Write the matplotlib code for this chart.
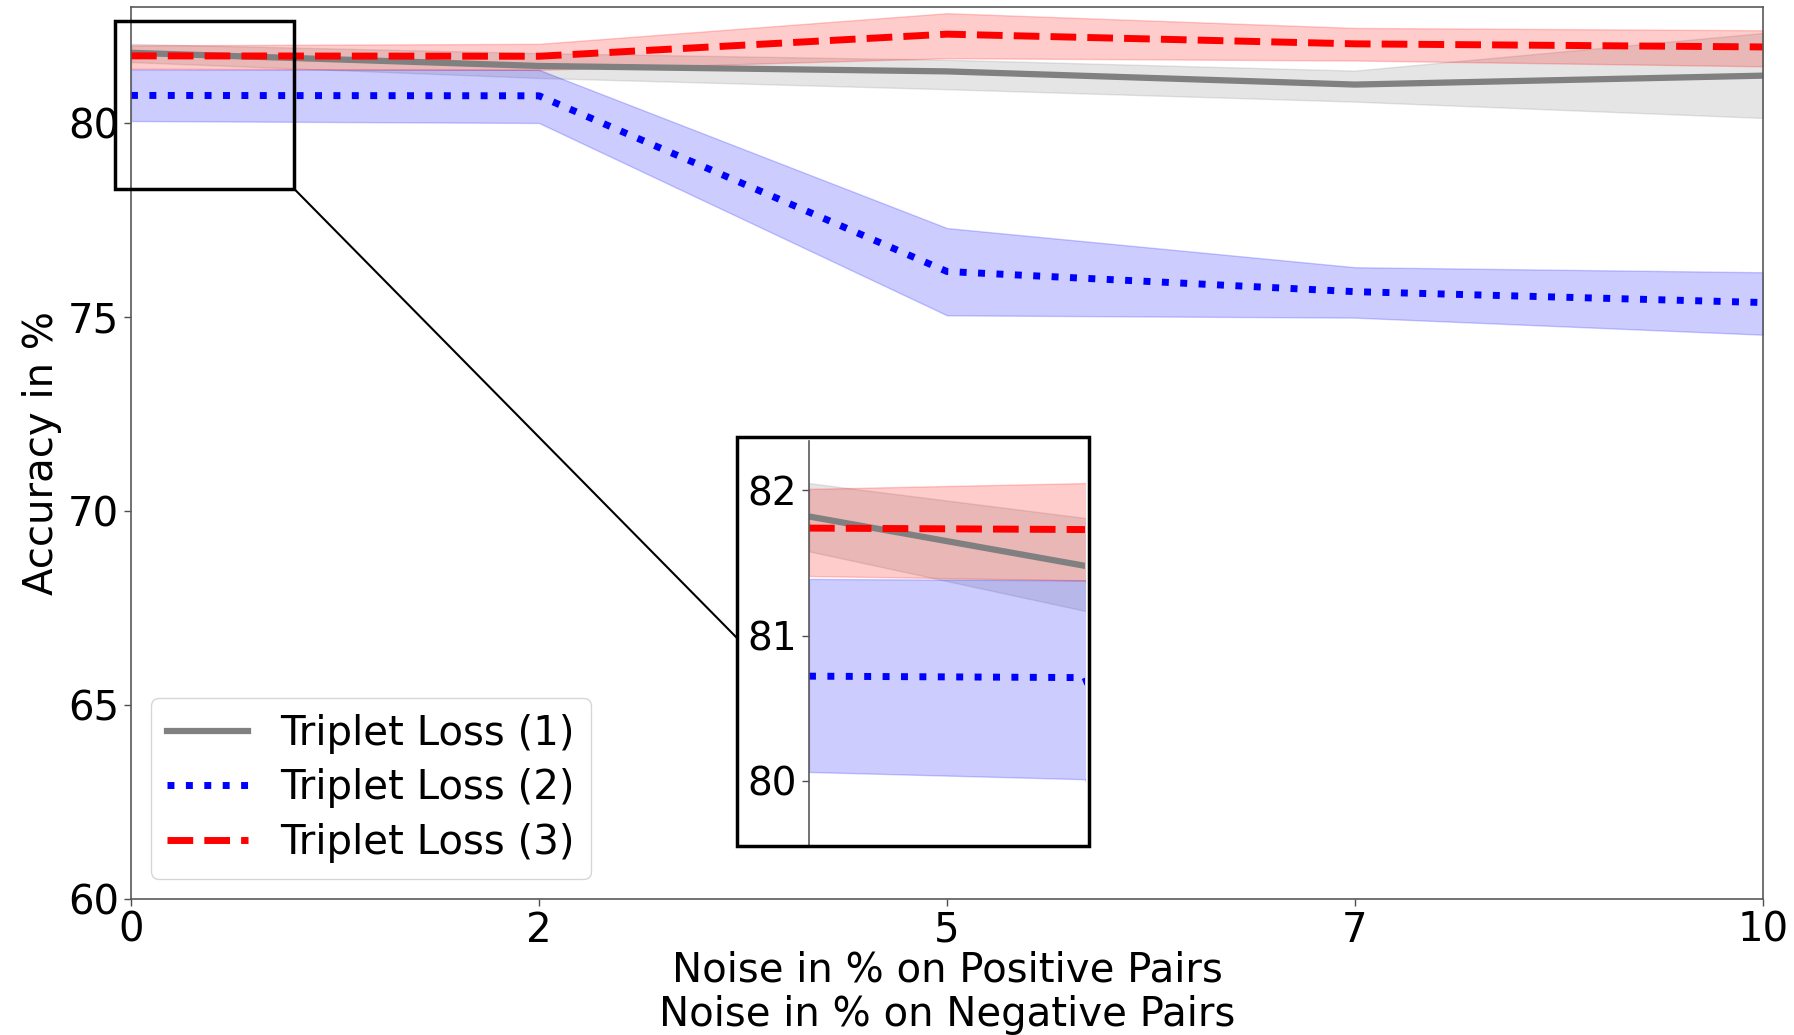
import matplotlib
matplotlib.use("Agg")
import matplotlib.pyplot as plt
from matplotlib.patches import Rectangle, ConnectionPatch

# ---- data ----
x_labels = ['0', '2', '5', '7', '10']
series_names = ['Triplet Loss (1)', 'Triplet Loss (2)', 'Triplet Loss (3)']

gray_mean = [81.82, 81.48, 81.34, 81.00, 81.23]
gray_low = [81.58, 81.17, 80.88, 80.56, 80.14]
gray_high = [82.05, 81.81, 81.64, 81.36, 82.33]

blue_mean = [80.72, 80.71, 76.18, 75.66, 75.38]
blue_low = [80.06, 80.01, 75.05, 74.99, 74.55]
blue_high = [81.39, 81.38, 77.30, 76.29, 76.16]

red_mean = [81.74, 81.73, 82.30, 82.05, 81.97]
red_low = [81.41, 81.38, 81.68, 81.62, 81.47]
red_high = [82.01, 82.05, 82.84, 82.46, 82.40]

y_ticks = [60, 65, 70, 75, 80]
inset_ticks = [80, 81, 82]
zoom_x = (-0.04, 0.40)
zoom_y = (78.31, 82.65)

FS = 29
W, H = 1794, 1035
fig = plt.figure(figsize=(W / 100, H / 100), dpi=100)

def fx(px):
    return px / W

def fy(py):
    return 1 - py / H

ax = fig.add_axes([fx(131), fy(899), fx(1763) - fx(131), fy(7) - fy(899)])
xs = list(range(len(x_labels)))

styles = [
    dict(color='gray', ls='-', lw=4.5),
    dict(color='blue', ls=':', lw=5.0),
    dict(color='red', ls='--', lw=5.0),
]
data = [(gray_mean, gray_low, gray_high),
        (blue_mean, blue_low, blue_high),
        (red_mean, red_low, red_high)]


def draw(a):
    for (m, lo, hi), st, name in zip(data, styles, series_names):
        a.plot(xs, m, label=name, **st)
        a.fill_between(xs, lo, hi, color=st['color'], alpha=0.2, lw=1.0)


draw(ax)
ax.set_xlim(0, len(x_labels) - 1)
ax.set_ylim(60, 83)
ax.set_xticks(xs)
ax.set_xticklabels(x_labels)
ax.set_yticks(y_ticks)
ax.tick_params(labelsize=FS, length=5, width=1.0, color='0.3')
for s in ax.spines.values():
    s.set_color('0.35')
    s.set_linewidth(1.2)
ax.set_ylabel('Accuracy in %', fontsize=FS, labelpad=4)
ax.set_xlabel('Noise in % on Positive Pairs\nNoise in % on Negative Pairs',
              fontsize=FS, linespacing=1.12, labelpad=0)
ax.legend(loc='lower left', fontsize=FS, handlelength=2.0, labelspacing=0.36)

# zoom indicator on main axes
ax.add_patch(Rectangle((zoom_x[0], zoom_y[0]), zoom_x[1] - zoom_x[0],
                       zoom_y[1] - zoom_y[0], fill=False, ec='black', lw=2.5,
                       clip_on=False, zorder=6))

# inset axes
axin = fig.add_axes([fx(809), fy(846), fx(1085) - fx(809), fy(441) - fy(846)])
draw(axin)
axin.set_xlim(0, 1)
axin.set_ylim(79.55, 82.34)
axin.set_xticks([])
axin.set_yticks(inset_ticks)
axin.tick_params(labelsize=28, length=5, width=1.0, color='0.3')
for k in ['top', 'right', 'bottom']:
    axin.spines[k].set_visible(False)
axin.spines['left'].set_color('0.35')
axin.spines['left'].set_linewidth(1.2)

frame = Rectangle((fx(737), fy(846)), fx(1089) - fx(737), fy(437) - fy(846),
                  transform=fig.transFigure, fill=False, ec='black', lw=2.5,
                  zorder=10)
fig.add_artist(frame)

con = ConnectionPatch(xyA=(zoom_x[1], zoom_y[0]), coordsA=ax.transData,
                      xyB=(fx(737), fy(638)), coordsB=fig.transFigure,
                      color='black', lw=1.5, zorder=10)
fig.add_artist(con)

fig.savefig('out.png', dpi=100)
